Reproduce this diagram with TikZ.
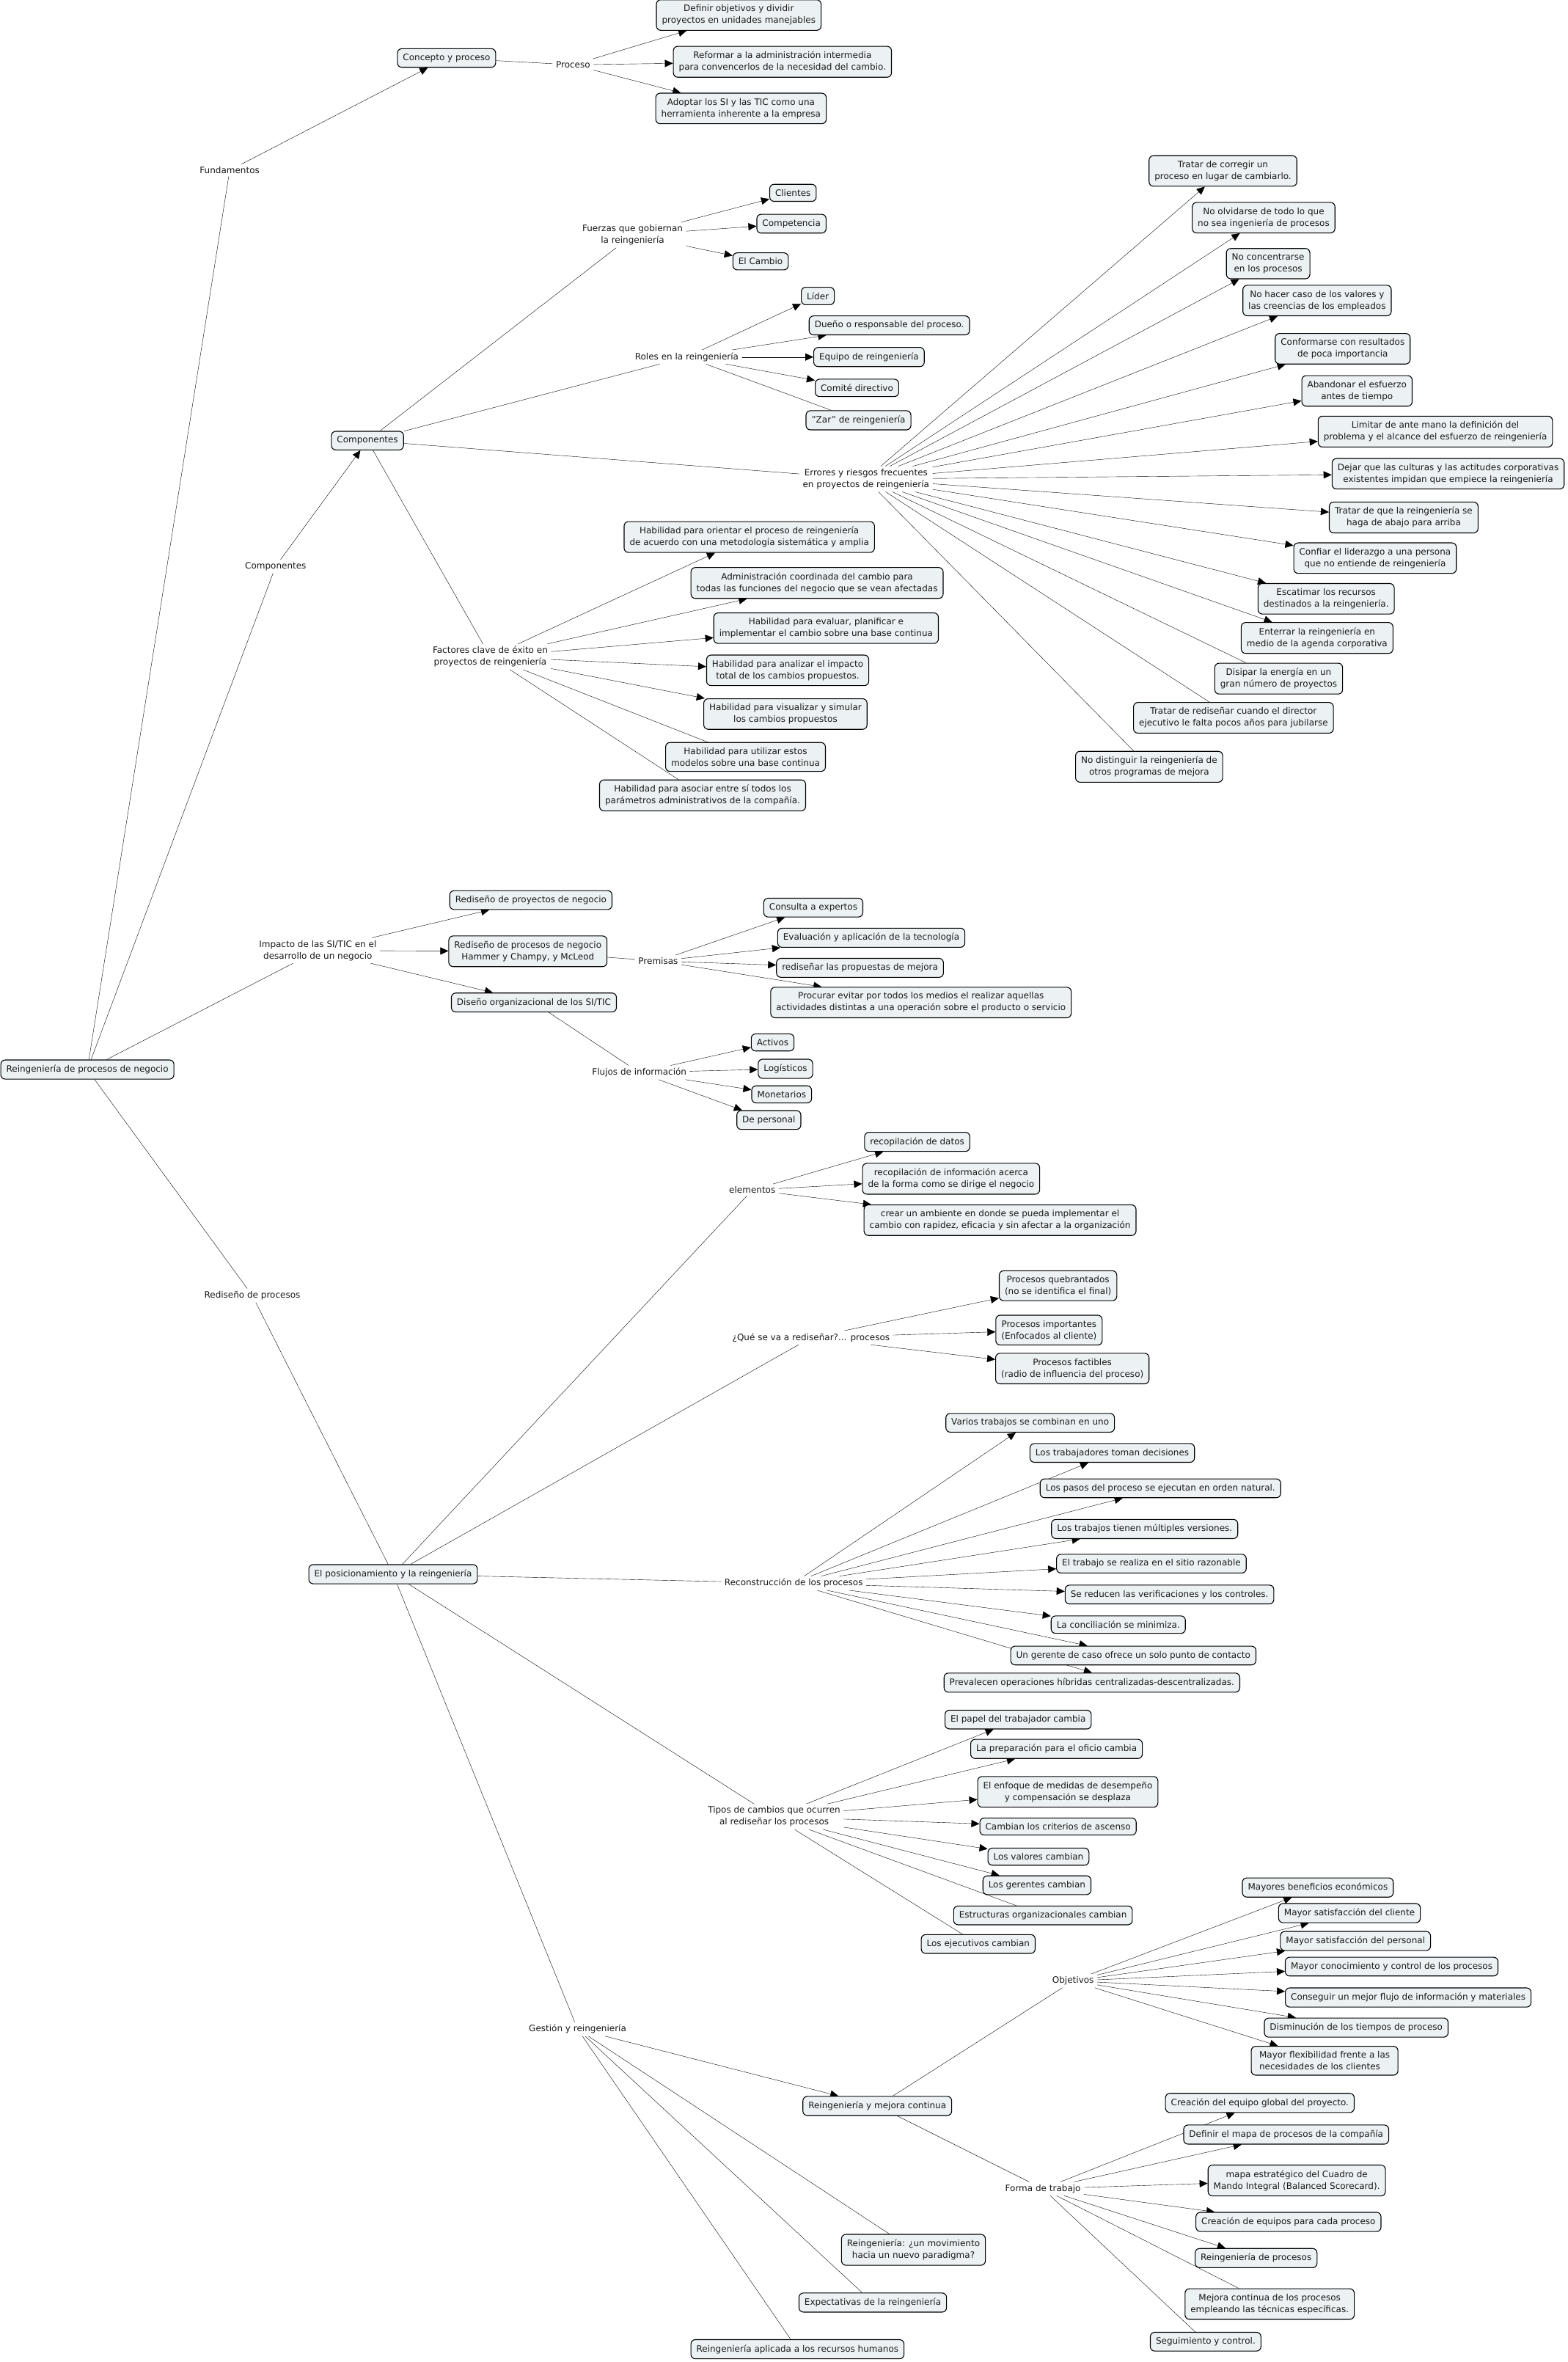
\documentclass[tikz,border=0pt]{standalone}
\usepackage{fontspec}
\setmainfont{DejaVu Sans}
\usetikzlibrary{arrows.meta,backgrounds}
\definecolor{cajafondo}{RGB}{236,242,244}
\definecolor{texto}{RGB}{25,25,25}
\tikzset{
	caja/.style={draw, rounded corners=6bp, fill=cajafondo, line width=1.1bp, inner xsep=7.5bp, inner ysep=7bp, align=center, text=texto, font=\fontsize{12bp}{16bp}\selectfont},
	enlace/.style={inner xsep=4bp, inner ysep=3bp, align=center, text=texto, font=\fontsize{12bp}{16bp}\selectfont}
}
\begin{document}
\begin{tikzpicture}[x=2.053bp, y=-2.053bp, >={Triangle[length=11bp,width=10bp]}, line width=1.2bp]
		\useasboundingbox (0,0) rectangle (1041,1568);
		
		% Root
		\node[caja] (raiz) at (58,710) {Reingeniería de procesos de negocio};
		
		% Fundamentos
		\node[enlace] (fund) at (152.5,113) {Fundamentos};
		\node[caja] (conc) at (296.5,38.5) {Concepto y proceso};
		\node[enlace] (proc) at (380.5,43) {Proceso};
		\node[caja] (defi) at (490.5,10) {Definir objetivos y dividir\\proyectos en unidades manejables};
		\node[caja] (refo) at (519.5,41) {Reformar a la administración intermedia\\para convencerlos de la necesidad del cambio.};
		\node[caja] (adop) at (492,72) {Adoptar los SI y las TIC como una\\herramienta inherente a la empresa};
		
		% Componentes
		\node[enlace] (compl) at (183,376) {Componentes};
		\node[caja] (comp) at (244,292.5) {Componentes};
		\node[enlace] (fuer) at (420,156) {Fuerzas que gobiernan\\la reingeniería};
		\node[caja] (clie) at (526.5,128) {Clientes};
		\node[caja] (cpt) at (525.5,148.5) {Competencia};
		\node[caja] (camb) at (505,173.5) {El Cambio};
		\node[enlace] (rol) at (456,237) {Roles en la reingeniería};
		\node[caja] (lid) at (543,196.5) {Líder};
		\node[caja] (duen) at (590.5,216) {Dueño o responsable del proceso.};
		\node[caja] (equi) at (577,237) {Equipo de reingeniería};
		\node[caja] (comi) at (569,257.5) {Comité directivo};
		\node[caja] (zar) at (570,279) {"Zar" de reingeniería};
		
		% Errores y riesgos
		\node[enlace] (err) at (575,318) {Errores y riesgos frecuentes\\en proyectos de reingeniería};
		\node[caja] (e1) at (812,113.5) {Tratar de corregir un\\proceso en lugar de cambiarlo.};
		\node[caja] (e2) at (839,144.5) {No olvidarse de todo lo que\\no sea ingeniería de procesos};
		\node[caja] (e3) at (842,175) {No concentrarse\\en los procesos};
		\node[caja] (e4) at (874.5,199.5) {No hacer caso de los valores y\\las creencias de los empleados};
		\node[caja] (e5) at (891.5,231.5) {Conformarse con resultados\\de poca importancia};
		\node[caja] (e6) at (901,259.5) {Abandonar el esfuerzo\\antes de tiempo};
		\node[caja] (e7) at (953,286.5) {Limitar de ante mano la definición del\\problema y el alcance del esfuerzo de reingeniería};
		\node[caja] (e8) at (961.5,314.5) {Dejar que las culturas y las actitudes corporativas\\existentes impidan que empiece la reingeniería};
		\node[caja] (e9) at (932,343.5) {Tratar de que la reingeniería se\\haga de abajo para arriba};
		\node[caja] (e10) at (913,370.5) {Confiar el liderazgo a una persona\\que no entiende de reingeniería};
		\node[caja] (e11) at (880.5,397.5) {Escatimar los recursos\\destinados a la reingeniería.};
		\node[caja] (e12) at (874.5,423.5) {Enterrar la reingeniería en\\medio de la agenda corporativa};
		\node[caja] (e13) at (849,450.5) {Disipar la energía en un\\gran número de proyectos};
		\node[caja] (e14) at (819,476.5) {Tratar de rediseñar cuando el director\\ejecutivo le falta pocos años para jubilarse};
		\node[caja] (e15) at (763,509) {No distinguir la reingeniería de\\otros programas de mejora};
		
		% Factores clave
		\node[enlace] (fac) at (325.5,436) {Factores clave de éxito en\\proyectos de reingeniería};
		\node[caja] (f1) at (497.5,356.5) {Habilidad para orientar el proceso de reingeniería\\de acuerdo con una metodología sistemática y amplia};
		\node[caja] (f2) at (542.5,387) {Administración coordinada del cambio para\\todas las funciones del negocio que se vean afectadas};
		\node[caja] (f3) at (548.5,417) {Habilidad para evaluar, planificar e\\implementar el cambio sobre una base continua};
		\node[caja] (f4) at (523,445) {Habilidad para analizar el impacto\\total de los cambios propuestos.};
		\node[caja] (f5) at (521.5,474) {Habilidad para visualizar y simular\\los cambios propuestos};
		\node[caja] (f6) at (495,502.5) {Habilidad para utilizar estos\\modelos sobre una base continua};
		\node[caja] (f7) at (466.5,528) {Habilidad para asociar entre sí todos los\\parámetros administrativos de la compañía.};
		
		% Impacto de las SI/TIC
		\node[enlace] (imp) at (211,631) {Impacto de las SI/TIC en el\\desarrollo de un negocio};
		\node[caja] (rproy) at (352.5,597.5) {Rediseño de proyectos de negocio};
		\node[caja] (rproc) at (350.5,631.5) {Rediseño de procesos de negocio\\Hammer y Champy, y McLeod};
		\node[caja] (dorg) at (354.5,665.5) {Diseño organizacional de los SI/TIC};
		\node[enlace] (prem) at (437,638) {Premisas};
		\node[caja] (p1) at (540,602.5) {Consulta a expertos};
		\node[caja] (p2) at (578.5,622.5) {Evaluación y aplicación de la tecnología};
		\node[caja] (p3) at (571,642.5) {rediseñar las propuestas de mejora};
		\node[caja] (p4) at (611.5,665.5) {Procurar evitar por todos los medios el realizar aquellas\\actividades distintas a una operación sobre el producto o servicio};
		\node[enlace] (flu) at (424.5,712) {Flujos de información};
		\node[caja] (act) at (513,692) {Activos};
		\node[caja] (logi) at (521.5,709.5) {Logísticos};
		\node[caja] (mon) at (519,726.5) {Monetarios};
		\node[caja] (pers) at (510.5,743.5) {De personal};
		
		% Rediseño de procesos
		\node[enlace] (rdp) at (167.5,860) {Rediseño de procesos};
		\node[caja] (pos) at (261,1045) {El posicionamiento y la reingeniería};
		\node[enlace] (ele) at (499.5,790) {elementos};
		\node[caja] (el1) at (609,758) {recopilación de datos};
		\node[caja] (el2) at (631.5,782.5) {recopilación de información acerca\\de la forma como se dirige el negocio};
		\node[caja] (el3) at (664,810) {crear un ambiente en donde se pueda implementar el\\cambio con rapidez, eficacia y sin afectar a la organización};
		\node[enlace] (que) at (538.5,888) {¿Qué se va a rediseñar?... procesos};
		\node[caja] (q1) at (702.5,853.5) {Procesos quebrantados\\(no se identifica el final)};
		\node[caja] (q2) at (696.5,883) {Procesos importantes\\(Enfocados al cliente)};
		\node[caja] (q3) at (712,908.5) {Procesos factibles\\(radio de influencia del proceso)};
		
		% Reconstruccion
		\node[enlace] (rec) at (527,1051) {Reconstrucción de los procesos};
		\node[caja] (r1) at (684,944.5) {Varios trabajos se combinan en uno};
		\node[caja] (r2) at (738.5,964.5) {Los trabajadores toman decisiones};
		\node[caja] (r3) at (770.5,988) {Los pasos del proceso se ejecutan en orden natural.};
		\node[caja] (r4) at (760,1015) {Los trabajos tienen múltiples versiones.};
		\node[caja] (r5) at (764.5,1038) {El trabajo se realiza en el sitio razonable};
		\node[caja] (r6) at (776.5,1058.5) {Se reducen las verificaciones y los controles.};
		\node[caja] (r7) at (742.5,1078.5) {La conciliación se minimiza.};
		\node[caja] (r8) at (752.5,1099) {Un gerente de caso ofrece un solo punto de contacto};
		\node[caja] (r9) at (725,1117) {Prevalecen operaciones híbridas centralizadas-descentralizadas.};
		
		% Tipos de cambios
		\node[enlace] (tip) at (514,1206) {Tipos de cambios que ocurren\\al rediseñar los procesos};
		\node[caja] (t1) at (676,1141.5) {El papel del trabajador cambia};
		\node[caja] (t2) at (701.5,1161) {La preparación para el oficio cambia};
		\node[caja] (t3) at (709,1189.5) {El enfoque de medidas de desempeño\\y compensación se desplaza};
		\node[caja] (t4) at (702.5,1212.5) {Cambian los criterios de ascenso};
		\node[caja] (t5) at (689.5,1232.5) {Los valores cambian};
		\node[caja] (t6) at (688.5,1251.5) {Los gerentes cambian};
		\node[caja] (t7) at (692.5,1271.5) {Estructuras organizacionales cambian};
		\node[caja] (t8) at (649.5,1290.5) {Los ejecutivos cambian};
		
		% Gestion
		\node[enlace] (ges) at (383.5,1347) {Gestión y reingeniería};
		\node[caja] (rmc) at (582.5,1398) {Reingeniería y mejora continua};
		\node[caja] (g2) at (606.5,1493.5) {Reingeniería: ¿un movimiento\\hacia un nuevo paradigma?};
		\node[caja] (g3) at (579.5,1528.5) {Expectativas de la reingeniería};
		\node[caja] (g4) at (529.5,1559.5) {Reingeniería aplicada a los recursos humanos};
		\node[enlace] (obj) at (712.5,1315) {Objetivos};
		\node[caja] (o1) at (875,1253) {Mayores beneficios económicos};
		\node[caja] (o2) at (896,1270) {Mayor satisfacción del cliente};
		\node[caja] (o3) at (900,1288.5) {Mayor satisfacción del personal};
		\node[caja] (o4) at (924,1305.5) {Mayor conocimiento y control de los procesos};
		\node[caja] (o5) at (935,1326) {Conseguir un mejor flujo de información y materiales};
		\node[caja] (o6) at (900.5,1346) {Disminución de los tiempos de proceso};
		\node[caja, align=left, inner xsep=11bp] (o7) at (879.5,1368) {Mayor flexibilidad frente a las\\necesidades de los clientes};
		\node[enlace] (forma) at (692.5,1453) {Forma de trabajo};
		\node[caja] (w1) at (836.5,1396) {Creación del equipo global del proyecto.};
		\node[caja] (w2) at (854,1417) {Definir el mapa de procesos de la compañía};
		\node[caja] (w3) at (861,1447.5) {mapa estratégico del Cuadro de\\Mando Integral (Balanced Scorecard).};
		\node[caja] (w4) at (855.5,1475) {Creación de equipos para cada proceso};
		\node[caja] (w5) at (834,1499) {Reingeniería de procesos};
		\node[caja] (w6) at (843,1529.5) {Mejora continua de los procesos\\empleando las técnicas específicas.};
		\node[caja] (w7) at (800.5,1554.5) {Seguimiento y control.};
		
		\begin{pgfonlayer}{background}
			\fill[white] (0,0) rectangle (1041,1568);
			
			% Links from root
			\draw (raiz) -- (fund);
			\draw (raiz) -- (compl);
			\draw (raiz) -- (imp);
			\draw (raiz) -- (rdp);
			
			% Links Fundamentos
			\draw[->] (fund) -- (conc);
			\draw (conc) -- (proc);
			\draw[->] (proc) -- (defi);
			\draw[->] (proc) -- (refo);
			\draw[->] (proc) -- (adop);
			
			% Links Componentes
			\draw[->] (compl) -- (comp);
			\draw (comp) -- (fuer);
			\draw[->] (fuer) -- (clie);
			\draw[->] (fuer) -- (cpt);
			\draw[->] (fuer) -- (camb);
			\draw (comp) -- (rol);
			\draw[->] (rol) -- (lid);
			\draw[->] (rol) -- (duen);
			\draw[->] (rol) -- (equi);
			\draw[->] (rol) -- (comi);
			\draw (rol) -- (zar);
			\draw (comp) -- (err);
			\draw[->] (err) -- (e1);
			\draw[->] (err) -- (e2);
			\draw[->] (err) -- (e3);
			\draw[->] (err) -- (e4);
			\draw[->] (err) -- (e5);
			\draw[->] (err) -- (e6);
			\draw[->] (err) -- (e7);
			\draw[->] (err) -- (e8);
			\draw[->] (err) -- (e9);
			\draw[->] (err) -- (e10);
			\draw[->] (err) -- (e11);
			\draw[->] (err) -- (e12);
			\draw (err) -- (e13);
			\draw (err) -- (e14);
			\draw (err) -- (e15);
			\draw (comp) -- (fac);
			\draw[->] (fac) -- (f1);
			\draw[->] (fac) -- (f2);
			\draw[->] (fac) -- (f3);
			\draw[->] (fac) -- (f4);
			\draw[->] (fac) -- (f5);
			\draw (fac) -- (f6);
			\draw (fac) -- (f7);
			
			% Links Impacto
			\draw[->] (imp) -- (rproy);
			\draw[->] (imp) -- (rproc);
			\draw[->] (imp) -- (dorg);
			\draw (rproc) -- (prem);
			\draw[->] (prem) -- (p1);
			\draw[->] (prem) -- (p2);
			\draw[->] (prem) -- (p3);
			\draw[->] (prem) -- (p4);
			\draw (dorg) -- (flu);
			\draw[->] (flu) -- (act);
			\draw[->] (flu) -- (logi);
			\draw[->] (flu) -- (mon);
			\draw[->] (flu) -- (pers);
			
			% Links Rediseño de procesos
			\draw (rdp) -- (pos);
			\draw (pos) -- (ele);
			\draw[->] (ele) -- (el1);
			\draw[->] (ele) -- (el2);
			\draw[->] (ele) -- (el3);
			\draw (pos) -- (que);
			\draw[->] (que) -- (q1);
			\draw[->] (que) -- (q2);
			\draw[->] (que) -- (q3);
			\draw (pos) -- (rec);
			\draw[->] (rec) -- (r1);
			\draw[->] (rec) -- (r2);
			\draw[->] (rec) -- (r3);
			\draw[->] (rec) -- (r4);
			\draw[->] (rec) -- (r5);
			\draw[->] (rec) -- (r6);
			\draw[->] (rec) -- (r7);
			\draw[->] (rec) -- (r8);
			\draw[->] (rec) -- (r9.north);
			\draw (pos) -- (tip);
			\draw[->] (tip) -- (t1);
			\draw[->] (tip) -- (t2);
			\draw[->] (tip) -- (t3);
			\draw[->] (tip) -- (t4);
			\draw[->] (tip) -- (t5);
			\draw[->] (tip) -- (t6);
			\draw (tip) -- (t7);
			\draw (tip) -- (t8);
			\draw (pos) -- (ges);
			\draw[->] (ges) -- (rmc);
			\draw (ges) -- (g2);
			\draw (ges) -- (g3);
			\draw (ges) -- (g4);
			\draw (rmc) -- (obj);
			\draw[->] (obj) -- (o1);
			\draw[->] (obj) -- (o2);
			\draw[->] (obj) -- (o3);
			\draw[->] (obj) -- (o4);
			\draw[->] (obj) -- (o5);
			\draw[->] (obj) -- (o6);
			\draw[->] (obj) -- (o7);
			\draw (rmc) -- (forma);
			\draw[->] (forma) -- (w1);
			\draw[->] (forma) -- (w2);
			\draw[->] (forma) -- (w3);
			\draw[->] (forma) -- (w4);
			\draw[->] (forma) -- (w5);
			\draw (forma) -- (w6);
			\draw (forma) -- (w7);
		\end{pgfonlayer}
	\end{tikzpicture}
\end{document}
